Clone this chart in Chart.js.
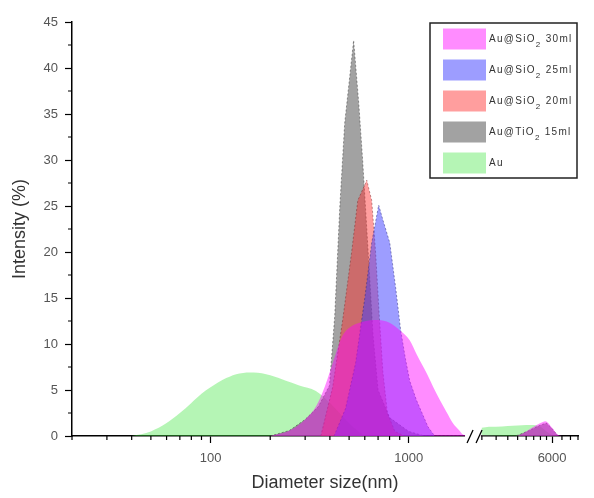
<!DOCTYPE html>
<html>
<head>
<meta charset="utf-8">
<script src="https://cdn.jsdelivr.net/npm/chart.js@4.4.1/dist/chart.umd.min.js"></script>
<style>
  html, body { margin: 0; padding: 0; background: #fff; }
</style>
</head>
<body>
<canvas id="dlsChart" width="594" height="498"></canvas>
<script>
// --- Data: diameter (nm) / intensity (%) ---
const seriesLabels = ["Au@SiO₂ 30ml", "Au@SiO₂ 25ml", "Au@SiO₂ 20ml", "Au@TiO₂ 15ml", "Au"];

const sio30Size = [200, 250, 300, 340, 376, 423, 460, 503, 580, 700, 800, 900, 1011, 1100, 1233, 1330, 1435, 1550, 1667, 1800, 1900, 3400, 4000, 4500, 5000, 5400, 6000, 6500, 7000];
const sio30Int  = [0, 0.6, 1.8, 3.2, 5.3, 8.6, 10.8, 11.8, 12.4, 12.6, 12.3, 11.5, 10.4, 8.8, 6.8, 5.3, 3.9, 2.6, 1.4, 0.6, 0.1, 0, 0.5, 1.0, 1.4, 1.6, 0.9, 0.2, 0];

const sio25Size = [420, 480, 540, 600, 650, 705, 740, 802, 860, 910, 960, 1011, 1093, 1250, 1350];
const sio25Int  = [0, 3, 8, 15, 21, 25.1, 23.5, 21, 16, 11.5, 8.5, 6, 3.9, 1, 0];

const sio20Size = [360, 413, 464, 515, 553, 614, 650, 680, 710, 740, 780, 850, 950];
const sio20Int  = [0, 5.3, 12.6, 20, 25.6, 27.8, 25.6, 20, 13, 7, 2.5, 0.5, 0];

const tio15Size = [200, 250, 300, 350, 398, 423, 449, 475, 527, 560, 585, 620, 660, 700, 800, 1000, 1200, 3400, 4200, 5000, 5500, 6000, 6600];
const tio15Int  = [0, 0.6, 1.8, 3.2, 5.5, 13, 25, 34, 43, 36, 30, 21, 11, 5, 2, 0.5, 0, 0, 0.6, 1.2, 1.4, 0.8, 0];

const auSize = [40, 50, 60, 70, 80, 90, 100, 120, 140, 165, 200, 240, 280, 340, 400, 470, 550, 620, 1990, 2000, 2500, 3000, 3500, 4000, 4500, 5000, 5500, 6000, 6500];
const auInt  = [0, 0.5, 1.4, 2.5, 3.6, 4.6, 5.3, 6.3, 6.8, 6.9, 6.6, 6.0, 5.5, 4.9, 3.6, 2, 0.6, 0, 0, 0.9, 1.0, 1.1, 1.15, 1.2, 1.2, 1.0, 0.5, 0.1, 0];

const xTickValues = [100, 1000, 6000];
const xMinorTicks = [20, 30, 40, 50, 60, 70, 80, 90, 200, 300, 400, 500, 600, 700, 800, 900,
                     2000, 2500, 3000, 3500, 4000, 4500, 5000, 5500, 7000, 8000, 9000];
const xMin = 20, xMax = 9000;
const yMin = 0, yMax = 45, yStep = 5;

// --- Axis break: log scale up to 1900, compressed log scale from 2000 ---
const BREAK_LEFT = 1900, BREAK_RIGHT = 2000;
const RIGHT_START = 3.3687, RIGHT_SCALE = 0.7424;
function toAxis(d) {
  if (d < (BREAK_LEFT + BREAK_RIGHT) / 2) return Math.log10(d);
  return RIGHT_START + RIGHT_SCALE * Math.log10(d / BREAK_RIGHT);
}

const colors = [
  "rgba(255,0,255,0.45)",
  "rgba(60,60,255,0.5)",
  "rgba(255,40,40,0.45)",
  "rgba(100,100,100,0.6)",
  "rgba(70,230,70,0.4)"
];
const edgeColors = ["transparent", "rgba(40,40,120,0.6)", "rgba(120,40,40,0.6)", "rgba(50,50,50,0.6)", "transparent"];
const smooth = [true, false, false, false, true];

const sizes = [sio30Size, sio25Size, sio20Size, tio15Size, auSize];
const ints = [sio30Int, sio25Int, sio20Int, tio15Int, auInt];

const datasets = seriesLabels.map((label, k) => ({
  label,
  data: sizes[k].map((d, i) => ({ x: toAxis(d), y: ints[k][i] })),
  backgroundColor: colors[k],
  borderColor: edgeColors[k],
  borderWidth: 0.8,
  borderDash: [2, 2],
  fill: "origin",
  pointRadius: 0,
  tension: 0,
  cubicInterpolationMode: smooth[k] ? "monotone" : "default"
}));

// --- Extra drawing: minor ticks, axis break, legend ---
const extras = {
  id: "extras",
  afterDraw(chart) {
    const { ctx, chartArea: a, scales: { x, y } } = chart;
    ctx.save();

    // minor ticks
    ctx.strokeStyle = "#000";
    ctx.lineWidth = 1.2;
    ctx.beginPath();
    xMinorTicks.forEach(d => {
      const px = x.getPixelForValue(toAxis(d));
      ctx.moveTo(px, a.bottom);
      ctx.lineTo(px, a.bottom + 4);
    });
    for (let v = yStep / 2; v < yMax; v += yStep) {
      const py = y.getPixelForValue(v);
      ctx.moveTo(a.left, py);
      ctx.lineTo(a.left - 4, py);
    }
    ctx.stroke();

    // axis break
    const b0 = x.getPixelForValue(toAxis(BREAK_LEFT));
    const b1 = x.getPixelForValue(toAxis(BREAK_RIGHT));
    ctx.fillStyle = "#fff";
    ctx.fillRect(b0 + 1, a.bottom - 1.5, b1 - b0 - 2, 3);
    ctx.lineWidth = 1.3;
    ctx.beginPath();
    ctx.moveTo(b0 + 3, a.bottom + 7); ctx.lineTo(b0 + 9, a.bottom - 6);
    ctx.moveTo(b0 + 12, a.bottom + 7); ctx.lineTo(b0 + 18, a.bottom - 6);
    ctx.stroke();

    // legend
    const lx = 430, ly = 23, lw = 147, lh = 155;
    ctx.fillStyle = "#fff";
    ctx.fillRect(lx, ly, lw, lh);
    ctx.strokeStyle = "#222";
    ctx.lineWidth = 1.5;
    ctx.strokeRect(lx, ly, lw, lh);
    chart.data.datasets.forEach((ds, i) => {
      const cy = 39 + i * 31;
      ctx.fillStyle = ds.backgroundColor;
      ctx.fillRect(443, cy - 10.5, 43, 21);
      ctx.fillStyle = "#333";
      ctx.textBaseline = "alphabetic";
      ctx.letterSpacing = "1.3px";
      const parts = ds.label.split("₂");
      let tx = 489;
      ctx.font = "10px 'Liberation Sans', Arial, sans-serif";
      ctx.fillText(parts[0], tx, cy + 3);
      tx += ctx.measureText(parts[0]).width;
      if (parts.length > 1) {
        ctx.font = "8px 'Liberation Sans', Arial, sans-serif";
        ctx.fillText("2", tx, cy + 8);
        tx += ctx.measureText("2").width;
        ctx.font = "10px 'Liberation Sans', Arial, sans-serif";
        ctx.fillText(parts[1], tx, cy + 3);
      }
    });
    ctx.restore();
  }
};

const ctx = document.getElementById("dlsChart").getContext("2d");
new Chart(ctx, {
  type: "line",
  data: { datasets },
  plugins: [extras],
  options: {
    responsive: false,
    animation: false,
    devicePixelRatio: 1,
    layout: { padding: { left: 0, right: 16, top: 22, bottom: 0 } },
    plugins: { legend: { display: false }, tooltip: { enabled: false } },
    scales: {
      x: {
        type: "linear",
        min: toAxis(xMin),
        max: toAxis(xMax),
        z: 1,
        afterBuildTicks: s => { s.ticks = xTickValues.map(v => ({ value: toAxis(v) })); },
        afterFit: s => { s.height = 62; },
        ticks: {
          autoSkip: false,
          maxRotation: 0,
          padding: 8,
          color: "#555",
          font: { family: "'Liberation Sans', Arial, sans-serif", size: 13 },
          callback: (v, i) => String(xTickValues[i])
        },
        grid: { drawOnChartArea: false, tickLength: 7, tickColor: "#000", tickWidth: 1.2 },
        border: { color: "#000", width: 1.5 },
        title: {
          display: true,
          text: "Diameter size(nm)",
          color: "#333",
          font: { family: "'Liberation Sans', Arial, sans-serif", size: 18 },
          padding: { top: 0, bottom: 4 }
        }
      },
      y: {
        min: yMin,
        max: yMax,
        z: 1,
        afterFit: s => { s.width = 72; },
        ticks: {
          stepSize: yStep,
          padding: 7,
          color: "#555",
          font: { family: "'Liberation Sans', Arial, sans-serif", size: 13 }
        },
        grid: { drawOnChartArea: false, tickLength: 7, tickColor: "#000", tickWidth: 1.2 },
        border: { color: "#000", width: 1.5 },
        title: {
          display: true,
          text: "Intensity (%)",
          color: "#333",
          font: { family: "'Liberation Sans', Arial, sans-serif", size: 18 },
          padding: { top: 9, bottom: 0 }
        }
      }
    }
  }
});
</script>
</body>
</html>
